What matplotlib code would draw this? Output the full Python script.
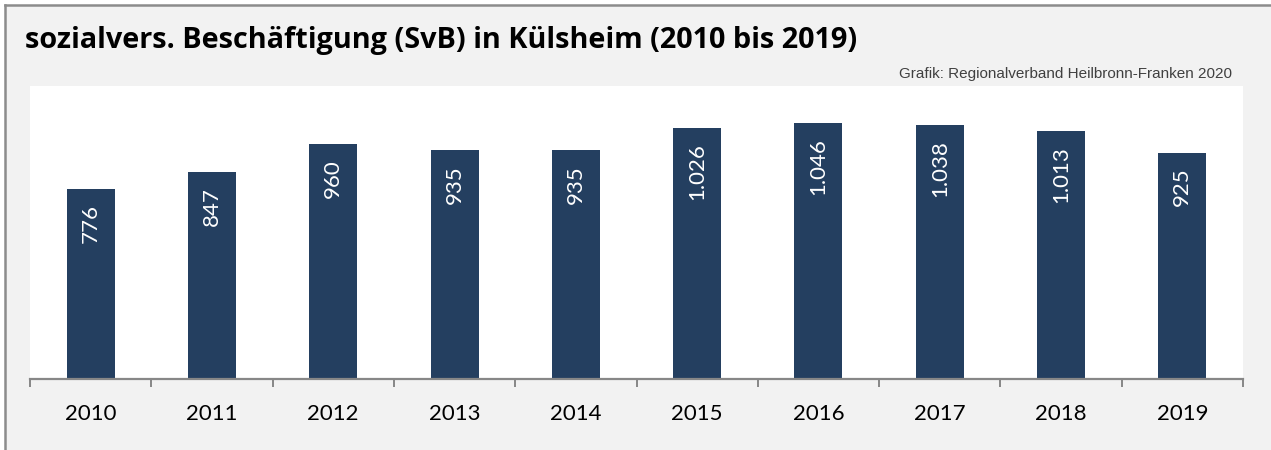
import matplotlib
matplotlib.use("Agg")
import matplotlib.pyplot as plt
from matplotlib.lines import Line2D
from matplotlib.patches import Rectangle

years = ["2010", "2011", "2012", "2013", "2014", "2015", "2016", "2017", "2018", "2019"]
values = [776, 847, 960, 935, 935, 1026, 1046, 1038, 1013, 925]
labels = ["776", "847", "960", "935", "935", "1.026", "1.046", "1.038", "1.013", "925"]
title = "sozialvers. Beschäftigung (SvB) in Külsheim (2010 bis 2019)"
credit = "Grafik: Regionalverband Heilbronn-Franken 2020"

W, H = 1271, 450
fig = plt.figure(figsize=(W / 100, H / 100), dpi=100, facecolor="white")

# gray panel background with border lines
fig.patches.append(Rectangle((5 / W, 0), 1 - 5 / W, 1 - 5 / H, transform=fig.transFigure,
                             facecolor="#f2f2f2", edgecolor="none", zorder=-10))
fig.lines.append(Line2D([5 / W, 5 / W], [0, 1 - 5 / H], transform=fig.transFigure,
                        color="#8c8c8c", linewidth=1.8, zorder=-5))
fig.lines.append(Line2D([5 / W, 1], [1 - 5 / H, 1 - 5 / H], transform=fig.transFigure,
                        color="#8c8c8c", linewidth=1.8, zorder=-5))

left, right, top, bottom = 30, 1243, 86, 379
ax = fig.add_axes([left / W, (H - bottom) / H, (right - left) / W, (bottom - top) / H])
ax.set_facecolor("white")

x = list(range(len(years)))
bars = ax.bar(x, values, width=0.395, color="#243f60", zorder=2)
ax.set_xlim(-0.5, len(years) - 0.5)
ax.set_ylim(0, 1197)

for xi, v, lab in zip(x, values, labels):
    ax.annotate(lab, xy=(xi, v), xytext=(0, -11), textcoords="offset points",
                rotation=90, ha="center", va="top", color="white",
                fontsize=16, family="Lato", zorder=3)

for s in ["left", "right", "top"]:
    ax.spines[s].set_visible(False)
ax.spines["bottom"].set_color("#878787")
ax.spines["bottom"].set_linewidth(1.6)
ax.set_yticks([])

ax.set_xticks([i - 0.5 for i in range(len(years) + 1)])
ax.set_xticklabels([])
ax.tick_params(axis="x", which="major", length=5.5, width=1.4, color="#878787", direction="out")
ax.set_xticks(x, minor=True)
ax.set_xticklabels(years, minor=True, fontsize=16, family="Lato", color="black")
ax.tick_params(axis="x", which="minor", length=0, pad=18)

fig.text(25 / W, 1 - 48 / H, title, fontsize=20.8, fontweight="bold", family="Open Sans",
         ha="left", va="baseline", color="black")
fig.text(1232 / W, 1 - 74 / H, credit, fontsize=11, family="Liberation Sans",
         ha="right", va="center", color="#404040")

fig.savefig("out.png", dpi=100, facecolor="white")
